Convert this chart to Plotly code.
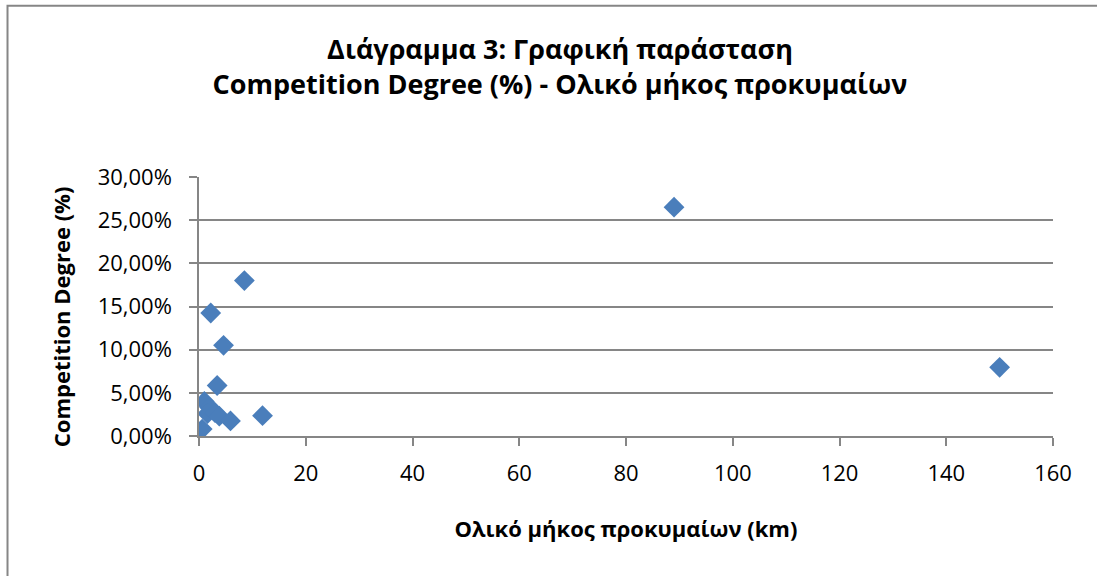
import plotly.graph_objects as go

# Total quay length (km) vs competition degree (fraction)
quay_length_km = [89, 150, 8.5, 2.2, 4.6, 3.4, 1.0, 2.0, 1.6, 3.0, 3.8, 5.9, 11.9, 0.6]
competition_degree = [0.265, 0.0795, 0.180, 0.1425, 0.105, 0.0585, 0.040, 0.033,
                      0.026, 0.027, 0.023, 0.0175, 0.0235, 0.008]

x_ticks = [0, 20, 40, 60, 80, 100, 120, 140, 160]
y_ticks = [0, 0.05, 0.10, 0.15, 0.20, 0.25, 0.30]

W, H = 1097, 576
L, R, T, B = 199.4, 44, 177.3, 139.7
pw, ph = W - L - R, H - T - B

FONT = "Open Sans"
GRID = "#868686"

fig = go.Figure(go.Scatter(
    x=quay_length_km, y=competition_degree, mode="markers",
    marker=dict(symbol="diamond", size=16, color="#4A7EBB",
                line=dict(width=0)),
    showlegend=False,
))

fig.update_layout(
    width=W, height=H,
    margin=dict(l=L, r=R, t=T, b=B, pad=0),
    paper_bgcolor="white", plot_bgcolor="white",
    separators=",.",
    font=dict(family=FONT, color="black", size=22),
    title=dict(
        text="<b>Διάγραμμα 3: Γραφική παράσταση<br>Competition Degree (%) - Ολικό μήκος προκυμαίων</b>",
        x=560 / W, xref="container", xanchor="center",
        y=1 - 59 / H, yref="container", yanchor="middle",
        font=dict(family=FONT, size=27, color="black"),
    ),
    xaxis=dict(
        range=[0, 160], tickvals=x_ticks, showgrid=False, zeroline=False,
        showline=True, linecolor=GRID, linewidth=1.5,
        ticks="outside", ticklen=8, tickcolor=GRID, tickwidth=1.5,
        tickfont=dict(size=22), ticklabelstandoff=9,
        title=dict(text="<b>Ολικό μήκος προκυμαίων (km)</b>",
                   font=dict(size=22), standoff=35),
    ),
    yaxis=dict(
        range=[0, 0.30], tickvals=y_ticks, tickformat=".2%",
        showgrid=True, gridcolor=GRID, gridwidth=1.5, zeroline=False,
        showline=True, linecolor=GRID, linewidth=1.5,
        ticks="outside", ticklen=8, tickcolor=GRID, tickwidth=1.5,
        tickfont=dict(size=22), ticklabelstandoff=13,
    ),
)

# Vertical axis title, placed in pixel terms relative to the plot area
fig.add_annotation(
    text="<b>Competition Degree (%)</b>", textangle=-90,
    xref="paper", yref="paper",
    x=(61 - L) / pw, y=((H - B) - 317) / ph,
    xanchor="center", yanchor="middle", showarrow=False,
    font=dict(family=FONT, size=22, color="black"),
)

# Chart-area frame
fig.add_shape(
    type="rect", xref="paper", yref="paper",
    x0=(8 - L) / pw, x1=(W + 20 - L) / pw,
    y0=-(H + 20 - (H - B)) / ph, y1=((H - B) - 6) / ph,
    line=dict(color=GRID, width=2), fillcolor="rgba(0,0,0,0)", layer="below",
)

fig.write_html("out.html")
